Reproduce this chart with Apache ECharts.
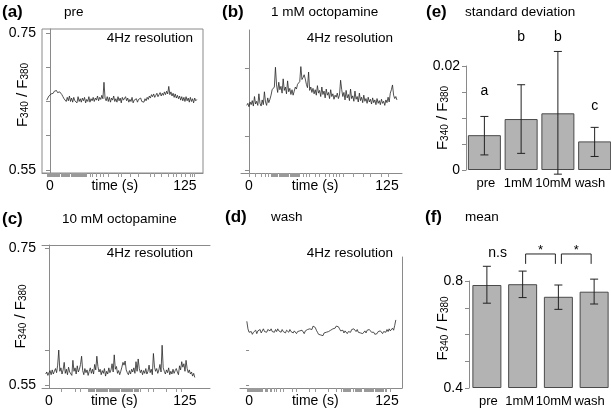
<!DOCTYPE html>
<html>
<head>
<meta charset="utf-8">
<script src="https://cdn.jsdelivr.net/npm/echarts@6/dist/echarts.min.js"></script>
<style>
  html, body { margin: 0; padding: 0; background: #fff; }
  #chart { width: 611px; height: 415px; }
</style>
</head>
<body>
<div id="chart"></div>
<script>
// ---- data ----
// traces (downsampled to 1 sample / s), first sample time in s
const preStart = -3;
const preTrace = [
  0.652, 0.655, 0.658, 0.657,
  0.661, 0.663, 0.662, 0.665, 0.664, 0.666, 0.663, 0.665, 0.664, 0.662, 0.660, 0.657,
  0.654, 0.652, 0.650, 0.656, 0.651, 0.658, 0.650, 0.655,
  0.649, 0.656, 0.651, 0.653, 0.648, 0.657, 0.650, 0.654, 0.649, 0.655,
  0.651, 0.656, 0.648, 0.653, 0.650, 0.657, 0.649, 0.654, 0.651, 0.656,
  0.650, 0.655, 0.652, 0.658, 0.651, 0.656, 0.653, 0.659, 0.654, 0.678,
  0.655, 0.651, 0.657, 0.650, 0.656, 0.649, 0.655, 0.652, 0.658, 0.650,
  0.654, 0.649, 0.657, 0.651, 0.655, 0.648, 0.656, 0.652, 0.650, 0.657,
  0.651, 0.655, 0.649, 0.653, 0.650, 0.656, 0.648, 0.652, 0.650, 0.654,
  0.649, 0.653, 0.651, 0.655, 0.650, 0.652, 0.649, 0.654, 0.651, 0.656,
  0.653, 0.658, 0.655, 0.660, 0.657, 0.661, 0.656, 0.659, 0.662, 0.657,
  0.660, 0.663, 0.658, 0.662, 0.659, 0.664, 0.660, 0.665, 0.661, 0.672,
  0.660, 0.664, 0.658, 0.662, 0.656, 0.661, 0.655, 0.659, 0.654, 0.658,
  0.652, 0.657, 0.651, 0.656, 0.650, 0.657, 0.651, 0.655, 0.649, 0.656,
  0.650, 0.654, 0.648, 0.655, 0.651, 0.653
];
const oct1Start = -2;
const oct1Trace = [
  0.645, 0.648, 0.643, 0.650, 0.646, 0.652, 0.644, 0.658, 0.647, 0.651, 0.645, 0.662,
  0.648, 0.644, 0.653, 0.646, 0.665, 0.650, 0.645, 0.656, 0.649, 0.654,
  0.660, 0.668, 0.666, 0.672, 0.701, 0.675, 0.664, 0.679, 0.668, 0.673,
  0.663, 0.684, 0.667, 0.672, 0.662, 0.681, 0.665, 0.670, 0.661, 0.668,
  0.660, 0.666, 0.672, 0.669, 0.676, 0.674, 0.680, 0.702, 0.683, 0.686,
  0.690, 0.684, 0.676, 0.671, 0.694, 0.667, 0.672, 0.664, 0.670, 0.662,
  0.668, 0.660, 0.674, 0.663, 0.667, 0.658, 0.672, 0.661, 0.666, 0.656,
  0.669, 0.660, 0.664, 0.655, 0.668, 0.658, 0.662, 0.654, 0.660, 0.657,
  0.663, 0.655, 0.660, 0.682, 0.668, 0.658, 0.664, 0.653, 0.667, 0.656,
  0.661, 0.652, 0.669, 0.655, 0.659, 0.651, 0.666, 0.654, 0.658, 0.650,
  0.663, 0.652, 0.657, 0.649, 0.660, 0.651, 0.655, 0.648, 0.657, 0.650,
  0.654, 0.647, 0.656, 0.649, 0.653, 0.646, 0.655, 0.648, 0.652, 0.646,
  0.654, 0.648, 0.651, 0.645, 0.653, 0.649, 0.657, 0.650, 0.663, 0.668,
  0.675, 0.660, 0.655, 0.658, 0.653
];
const oct10Start = -3;
const oct10Trace = [
  0.566, 0.569, 0.564, 0.568, 0.571, 0.565, 0.572, 0.566, 0.570, 0.574,
  0.568, 0.579, 0.601, 0.570, 0.575, 0.566, 0.572, 0.583, 0.567, 0.573,
  0.565, 0.576, 0.569, 0.571, 0.564, 0.586, 0.570, 0.575, 0.566, 0.578,
  0.569, 0.573, 0.580, 0.592, 0.571, 0.565, 0.574, 0.568, 0.572, 0.564,
  0.570, 0.575, 0.567, 0.573, 0.566, 0.580, 0.572, 0.592, 0.577, 0.569,
  0.573, 0.565, 0.571, 0.567, 0.574, 0.563, 0.570, 0.566, 0.575, 0.568,
  0.572, 0.581, 0.569, 0.594, 0.573, 0.577, 0.567, 0.571, 0.565, 0.570,
  0.576, 0.583, 0.579, 0.585, 0.572, 0.568, 0.565, 0.571, 0.566, 0.573,
  0.569, 0.575, 0.567, 0.584, 0.570, 0.588, 0.574, 0.568, 0.572, 0.565,
  0.571, 0.567, 0.574, 0.566, 0.570, 0.579, 0.568, 0.573, 0.565, 0.596,
  0.576, 0.570, 0.574, 0.567, 0.572, 0.580, 0.569, 0.608, 0.575, 0.570,
  0.566, 0.572, 0.568, 0.575, 0.565, 0.570, 0.566, 0.573, 0.567, 0.571,
  0.574, 0.569, 0.565, 0.578, 0.572, 0.584, 0.576, 0.581, 0.570, 0.586,
  0.574, 0.568, 0.572, 0.566, 0.569, 0.563, 0.567, 0.561
];
const washStart = -2;
const washTrace = [
  0.643, 0.632, 0.627, 0.625, 0.628, 0.624, 0.627, 0.626, 0.630, 0.625,
  0.629, 0.627, 0.631, 0.626, 0.629, 0.632, 0.628, 0.630, 0.627, 0.631,
  0.633, 0.629, 0.632, 0.628, 0.630, 0.627, 0.631, 0.628, 0.632, 0.629,
  0.630, 0.627, 0.631, 0.628, 0.629, 0.626, 0.630, 0.628, 0.627, 0.631,
  0.628, 0.630, 0.626, 0.629, 0.627, 0.625, 0.628, 0.626, 0.629, 0.627,
  0.630, 0.628, 0.625, 0.629, 0.627, 0.631, 0.629, 0.632, 0.634, 0.631,
  0.636, 0.638, 0.634, 0.630, 0.627, 0.624, 0.626, 0.623, 0.625, 0.622,
  0.626, 0.624, 0.627, 0.625, 0.628, 0.626, 0.630, 0.628, 0.632, 0.634,
  0.633, 0.636, 0.638, 0.635, 0.632, 0.629, 0.627, 0.630, 0.626, 0.629,
  0.627, 0.625, 0.628, 0.630, 0.627, 0.631, 0.629, 0.632, 0.630, 0.628,
  0.631, 0.627, 0.629, 0.626, 0.628, 0.625, 0.627, 0.629, 0.626, 0.630,
  0.628, 0.631, 0.629, 0.627, 0.625, 0.627, 0.624, 0.626, 0.625, 0.628,
  0.626, 0.629, 0.627, 0.625, 0.628, 0.630, 0.627, 0.631, 0.628, 0.632,
  0.629, 0.627, 0.633, 0.630, 0.637, 0.645
];

// rug marks under the time axes (s)
const preRug = [-3, -2.2, -1.5, -0.7, 0, 0.8, 1.5, 2.3, 3, 3.8, 4.5, 5.3, 6, 6.8, 7.5, 8.3,
  10, 10.8, 11.5, 12.3, 13, 13.8, 14.5, 15.3, 16, 16.8, 17.5,
  19.5, 20.3, 21, 21.8, 22.5, 23.3, 24, 24.8, 25.5, 26.3, 27, 27.8, 28.5, 29.3, 30, 30.8, 31.5, 32.3, 33, 33.8,
  37, 39.5, 42.6, 46.3, 49.4, 54, 63, 66, 74, 81.8, 92.6, 97, 103.4, 109.6, 114, 117.3, 122, 125.6, 129.6, 132, 133.6];
const oct1Rug = [0, 5.4, 11.5, 14.5, 17.5, 20.5, 21.3, 22, 23, 24, 25, 26, 27.5, 28.3, 29, 30, 31, 32, 33, 34, 35,
  36, 37, 38.5, 39.3, 40, 41, 42, 43, 44, 45, 46, 49, 52, 55, 60, 64, 69, 73, 76, 79, 82, 85.5, 94.5, 103.5, 109.6, 120, 126];
const oct10Rug = [11.6, 24, 28.5, 36, 37, 38, 39, 40, 41, 42, 43, 44, 45, 46, 47, 48, 49, 50, 51, 52, 53, 54, 55, 56,
  57, 58, 59, 60, 61, 62, 63, 64, 65, 66, 67, 68, 69, 70, 71, 72, 73, 74, 75, 76, 77, 78, 79, 80, 81, 82, 83.5,
  91, 95.7, 108, 117, 122];
const washRug = [-2, -1.2, -0.4, 0.4, 1.2, 2, 2.8, 3.6, 4.4, 5.2, 6, 6.8, 7.6, 8.4, 9.2, 10, 10.8, 11.6, 12.4,
  14.5, 15.3, 16.1, 16.9, 19, 20, 22.5, 25, 28, 31, 38.7, 43, 55, 60, 71.6, 79.4, 84,
  85.6, 86.4, 87.2, 88, 88.8, 89.6, 90.4, 91.2, 92, 94, 96, 97, 98, 99, 100, 101, 102, 104, 105, 106, 107,
  108, 109, 110, 111, 112, 113, 114, 115, 116, 117, 118, 119, 120, 121, 122, 123, 124.7, 127.7];

const timeTicks = [0, 125];
const timeTitleAt = 60;          // where "time (s)" sits under the axis
const ratioTicks = [0.55, 0.6, 0.65, 0.7, 0.75];
const ratioLabels = [0.55, 0.75];

// bar panels
const conditions = ['pre', '1mM', '10mM', 'wash'];
const sdMean = [0.0067, 0.0098, 0.0109, 0.0055];
const sdLow = [0.0029, 0.0032, -0.0008, 0.0026];
const sdHigh = [0.0103, 0.0164, 0.0228, 0.0082];
const sdLetters = ['a', 'b', 'b', 'c'];
const sdLetterY = [0.0151, 0.0256, 0.0256, 0.0123];
const sdTicks = [0, 0.005, 0.01, 0.015, 0.02];
const sdLabels = [0, 0.02];

const meanVal = [0.785, 0.788, 0.741, 0.760];
const meanLow = [0.717, 0.738, 0.694, 0.714];
const meanHigh = [0.855, 0.837, 0.785, 0.807];
const meanTicks = [0.4, 0.5, 0.6, 0.7, 0.8];
const meanLabels = [0.4, 0.8];
const sigPairs = [[1, 2], [2, 3]];
const sigMarks = ['*', '*'];
const sigTop = 0.901, sigFoot = 0.864;
const nsText = 'n.s', nsCat = 0, nsY = 0.905;

// ---- chart ----
const FONT = '"Liberation Sans", Arial, Helvetica, sans-serif';
const AXIS = '#8a8a8a';
const chart = echarts.init(document.getElementById('chart'));

const toPairs = (start, arr) => arr.map((v, i) => [start + i, v]);

const yName = '{f|F}{s|340}{f| / F}{s|380}';
function yNameStyle(lift) {
  // left padding (text start = screen bottom) lifts the rotated label
  return {
    padding: [0, 0, 0, lift],
    rich: {
      f: { fontSize: 15, lineHeight: 15, verticalAlign: 'top', color: '#000', fontFamily: FONT },
      s: { fontSize: 10, lineHeight: 10, padding: [7, 0, 0, 0], verticalAlign: 'bottom', color: '#000', fontFamily: FONT }
    }
  };
}

// category labels sit a little left of the bar centres in the figure
const catLabelRich = {
  c0: { padding: [0, 0, 0, 3] },
  c1: { padding: [0, 6, 0, 0] },
  c2: { padding: [0, 9, 0, 0] },
  c3: { padding: [0, 9, 0, 0] }
};

function timeAxis(grid, min, max, rug) {
  return {
    type: 'value', gridIndex: grid, min: min, max: max,
    axisLine: { show: true, lineStyle: { color: AXIS, width: 1 } },
    axisTick: { show: true, customValues: rug, length: 4, lineStyle: { color: '#9a9a9a', width: 1 } },
    axisLabel: {
      customValues: timeTicks.concat([timeTitleAt]), margin: 6,
      fontSize: 14, fontFamily: FONT, color: '#000',
      formatter: v => (v === timeTitleAt ? 'time (s)' : String(v))
    },
    splitLine: { show: false }
  };
}

function ratioAxis(grid, min, max, ticks, labels, withName, gap, lift) {
  const ax = {
    type: 'value', gridIndex: grid, min: min, max: max,
    axisLine: { show: true, lineStyle: { color: AXIS, width: 1 } },
    axisTick: { show: true, customValues: ticks, length: 4, lineStyle: { color: AXIS } },
    axisLabel: {
      show: labels.length > 0, customValues: labels, margin: 6,
      fontSize: 14, fontFamily: FONT, color: '#000',
      formatter: v => v.toFixed(2)
    },
    splitLine: { show: false }
  };
  if (withName) {
    ax.name = yName; ax.nameLocation = 'middle'; ax.nameRotate = 90;
    ax.nameGap = gap; ax.nameTextStyle = yNameStyle(lift || 0); ax.nameMoveOverlap = false;
  }
  return ax;
}

function barXAxis(grid) {
  return {
    type: 'category', gridIndex: grid, data: conditions,
    axisLine: { show: false }, axisTick: { show: false },
    axisLabel: {
      interval: 0, margin: 7, fontSize: 13, fontFamily: FONT, color: '#000',
      formatter: (v, i) => '{c' + i + '|' + v + '}', rich: catLabelRich
    }
  };
}

function errorBars(params, api) {
  const i = api.value(0);
  const lo = api.coord([i, api.value(1)]);
  const hi = api.coord([i, api.value(2)]);
  const w = 4;
  const st = { stroke: '#222', lineWidth: 1 };
  return {
    type: 'group', children: [
      { type: 'line', shape: { x1: lo[0], y1: lo[1], x2: hi[0], y2: hi[1] }, style: st },
      { type: 'line', shape: { x1: lo[0] - w, y1: lo[1], x2: lo[0] + w, y2: lo[1] }, style: st },
      { type: 'line', shape: { x1: hi[0] - w, y1: hi[1], x2: hi[0] + w, y2: hi[1] }, style: st }
    ]
  };
}

const titleDefs = [
  ['(a)', 2, 4, true], ['pre', 64, 5, false],
  ['(b)', 222, 4, true], ['1 mM octopamine', 271, 5, false],
  ['(e)', 426, 4, true], ['standard deviation', 465, 5, false],
  ['(c)', 2, 211, true], ['10 mM octopamine', 62, 212, false],
  ['(d)', 225, 209, true], ['wash', 271, 210, false],
  ['(f)', 425, 209, true], ['mean', 465, 210, false]
];
const titles = titleDefs.map(d => ({
  text: d[0], left: d[1], top: d[2], padding: 0,
  textStyle: { fontFamily: FONT, fontSize: d[3] ? 17 : 13.5, fontWeight: d[3] ? 'bold' : 'normal', color: '#000' }
}));
[[418, 31], [218, 31], [418, 246], [218, 246]].forEach(p => titles.push({
  text: '4Hz resolution', right: p[0], top: p[1], padding: 0,
  textStyle: { fontFamily: FONT, fontSize: 13.5, fontWeight: 'normal', color: '#000' }
}));

const traceLine = { color: '#262626', width: 0.8 };
const gridBase = { containLabel: false, outerBoundsMode: 'none' };

const option = {
  animation: false,
  backgroundColor: '#fff',
  title: titles,
  grid: [
    { left: 42, top: 29, width: 161, height: 144, show: true, borderColor: AXIS, borderWidth: 1 },   // a
    { left: 241, top: 30, width: 161, height: 143 },  // b
    { left: 466, top: 66, width: 147, height: 104 },  // e
    { left: 42, top: 245, width: 168, height: 143 },  // c
    { left: 240, top: 257, width: 162, height: 131 }, // d
    { left: 469, top: 281, width: 143, height: 107 }  // f
  ].map(g => Object.assign({}, gridBase, g)),
  xAxis: [
    timeAxis(0, -7.4, 141.7, preRug),
    timeAxis(1, -7.2, 138.6, oct1Rug),
    barXAxis(2),
    timeAxis(3, -6.4, 148, oct10Rug),
    timeAxis(4, -8.2, 138.6, washRug),
    barXAxis(5),
    { type: 'value', gridIndex: 3, position: 'top', min: 0, max: 1,
      axisLine: { show: true, lineStyle: { color: AXIS } }, axisTick: { show: false },
      axisLabel: { show: false }, splitLine: { show: false } }
  ],
  yAxis: [
    ratioAxis(0, 0.5456, 0.7558, ratioTicks, ratioLabels, true, 12, 12),
    ratioAxis(1, 0.5456, 0.7558, [0.55, 0.6, 0.7], [], false, 0),
    Object.assign(ratioAxis(2, 0, 0.02, sdTicks, sdLabels, true, 16), {
      axisLabel: { customValues: sdLabels, margin: 6, fontSize: 14, fontFamily: FONT, color: '#000',
        formatter: v => (v === 0 ? '0' : String(v)) }
    }),
    ratioAxis(3, 0.5456, 0.7544, [0.55, 0.6, 0.75], ratioLabels, true, 14),
    Object.assign(ratioAxis(4, 0.5456, 0.7369, [0.55, 0.6], [], false, 0), {
      axisLine: { show: false }, axisTick: { show: true, customValues: [0.55, 0.6], length: 3, lineStyle: { color: AXIS } }
    }),
    Object.assign(ratioAxis(5, 0.4, 0.8, meanTicks, meanLabels, true, 19, 12), {
      startValue: 0.4,
      axisLabel: { customValues: meanLabels, margin: 6, fontSize: 14, fontFamily: FONT, color: '#000',
        formatter: v => v.toFixed(1) }
    }),
    { type: 'value', gridIndex: 4, position: 'right', min: 0, max: 1,
      axisLine: { show: true, lineStyle: { color: AXIS } }, axisTick: { show: false },
      axisLabel: { show: false }, splitLine: { show: false } }
  ],
  series: [
    { type: 'line', xAxisIndex: 0, yAxisIndex: 0, data: toPairs(preStart, preTrace), showSymbol: false, lineStyle: traceLine },
    { type: 'line', xAxisIndex: 1, yAxisIndex: 1, data: toPairs(oct1Start, oct1Trace), showSymbol: false, lineStyle: traceLine },
    { type: 'line', xAxisIndex: 3, yAxisIndex: 3, data: toPairs(oct10Start, oct10Trace), showSymbol: false, lineStyle: traceLine },
    { type: 'line', xAxisIndex: 4, yAxisIndex: 4, data: toPairs(washStart, washTrace), showSymbol: false, lineStyle: traceLine },

    // (e) standard deviation
    { type: 'bar', xAxisIndex: 2, yAxisIndex: 2, data: sdMean, barWidth: 33,
      itemStyle: { color: '#b3b3b3', borderColor: '#4a4a4a', borderWidth: 1 } },
    { type: 'custom', xAxisIndex: 2, yAxisIndex: 2, renderItem: errorBars, z: 5,
      data: conditions.map((c, i) => [i, sdLow[i], sdHigh[i]]) },
    { type: 'custom', xAxisIndex: 2, yAxisIndex: 2, z: 5,
      data: conditions.map((c, i) => [i, sdLetterY[i]]),
      renderItem: (params, api) => {
        const p = api.coord([api.value(0), api.value(1)]);
        return { type: 'text', x: p[0], y: p[1],
          style: { text: sdLetters[params.dataIndex], textAlign: 'center', textVerticalAlign: 'middle',
            fontSize: 14, fontFamily: FONT, fill: '#000' } };
      } },

    // (f) mean
    { type: 'bar', xAxisIndex: 5, yAxisIndex: 5, data: meanVal, barWidth: 29,
      itemStyle: { color: '#b3b3b3', borderColor: '#4a4a4a', borderWidth: 1 } },
    { type: 'custom', xAxisIndex: 5, yAxisIndex: 5, renderItem: errorBars, z: 5,
      data: conditions.map((c, i) => [i, meanLow[i], meanHigh[i]]) },
    { type: 'custom', xAxisIndex: 5, yAxisIndex: 5, z: 5, data: sigPairs,
      renderItem: (params, api) => {
        const a = api.coord([api.value(0), sigTop]);
        const b = api.coord([api.value(1), sigTop]);
        const foot = api.coord([api.value(0), sigFoot])[1];
        const x1 = a[0] + 3, x2 = b[0] - 3, y = a[1];
        const st = { stroke: '#222', lineWidth: 1 };
        return { type: 'group', children: [
          { type: 'polyline', shape: { points: [[x1, foot], [x1, y], [x2, y], [x2, foot]] }, style: Object.assign({ fill: null }, st) },
          { type: 'text', x: (x1 + x2) / 2, y: y + 3,
            style: { text: sigMarks[params.dataIndex], textAlign: 'center', textVerticalAlign: 'bottom',
              fontSize: 13, fontFamily: FONT, fill: '#000' } }
        ] };
      } },
    { type: 'custom', xAxisIndex: 5, yAxisIndex: 5, z: 5, data: [[nsCat, nsY]],
      renderItem: (params, api) => {
        const p = api.coord([api.value(0), api.value(1)]);
        const band = api.size([1, 0])[0];
        return { type: 'text', x: p[0] + band * 0.3, y: p[1],
          style: { text: nsText, textAlign: 'center', textVerticalAlign: 'middle',
            fontSize: 14, fontFamily: FONT, fill: '#000' } };
      } }
  ]
};

chart.setOption(option);
</script>
</body>
</html>
